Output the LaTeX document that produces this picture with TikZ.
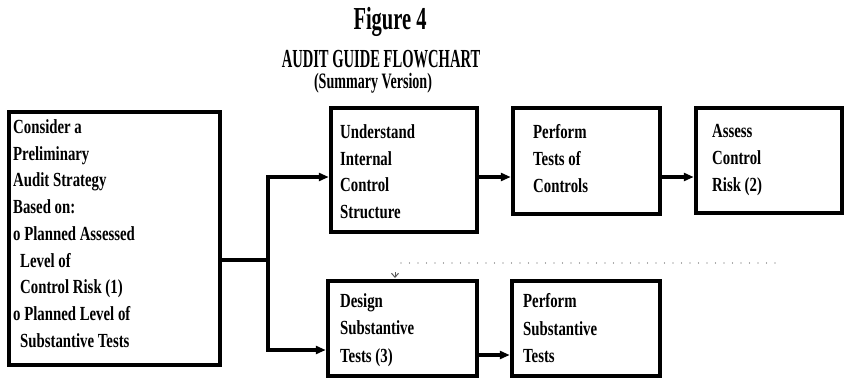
\documentclass[tikz,border=0pt]{standalone}
\usepackage{fontspec}
\setmainfont{Liberation Serif}
\newfontfamily\bodyfont[FakeStretch=0.74]{Liberation Serif}
\newfontfamily\headfont[FakeStretch=0.64]{Liberation Serif}
\newfontfamily\capsfont[FakeStretch=0.56]{Liberation Serif}
\usetikzlibrary{arrows.meta}

\begin{document}
\begin{tikzpicture}[x=1pt,y=-1pt,
  box/.style={draw, line width=4.5pt, rectangle, inner sep=0pt},
  boxtext/.style={anchor=north west, inner sep=0pt, align=left,
    font=\bodyfont\bfseries\fontsize{20pt}{26.7pt}\selectfont},
  wire/.style={line width=4pt},
  link/.style={line width=4pt, -{Triangle[length=10pt,width=8pt]}},
  feedback/.style={gray!70!black, line width=1.3pt, line cap=round,
    dash pattern=on 0pt off 8.5pt},
]
\useasboundingbox (0,0) rectangle (847,380);

% headings
\node[anchor=base, inner sep=0pt, font=\headfont\bfseries\fontsize{32pt}{34pt}\selectfont]
  (fig) at (390,30) {Figure 4};
\node[anchor=base, inner sep=0pt, font=\capsfont\bfseries\fontsize{26pt}{28pt}\selectfont]
  (title) at (381,67) {AUDIT GUIDE FLOWCHART};
\node[anchor=base, inner sep=0pt, font=\headfont\bfseries\fontsize{22pt}{24pt}\selectfont]
  (sub) at (373,88) {(Summary Version)};

% boxes
\node[box, minimum width=211pt, minimum height=253pt] (L) at (114.5,238.5) {};
\node[box, minimum width=146pt, minimum height=124pt] (U) at (404,170) {};
\node[box, minimum width=147pt, minimum height=106pt] (P) at (586.5,161) {};
\node[box, minimum width=146pt, minimum height=105pt] (A) at (769,160.5) {};
\node[box, minimum width=149pt, minimum height=95pt]  (D) at (402.5,328.5) {};
\node[box, minimum width=148pt, minimum height=95pt]  (S) at (586,328.5) {};

% box texts
\node[boxtext] (Lt) at (13,119.5) {Consider a\\Preliminary\\Audit Strategy\\Based on:\\
  o Planned Assessed\\\hspace*{7pt}Level of\\\hspace*{7pt}Control Risk (1)\\
  o Planned Level of\\\hspace*{7pt}Substantive Tests};
\node[boxtext] (Ut) at (340,124.5) {Understand\\Internal\\Control\\Structure};
\node[boxtext] (Pt) at (533,124.5) {Perform\\Tests of\\Controls};
\node[boxtext] (At) at (712,124.5) {Assess\\Control\\Risk (2)};
\node[boxtext, font=\bodyfont\bfseries\fontsize{20pt}{27.3pt}\selectfont]
  (Dt) at (340,293.5) {Design\\Substantive\\Tests (3)};
\node[boxtext, font=\bodyfont\bfseries\fontsize{20pt}{27.3pt}\selectfont]
  (St) at (523,293.5) {Perform\\Substantive\\Tests};

% connector levels
\coordinate (j) at (268,260);
\coordinate (toprow) at (0,177);
\coordinate (lowin) at (0,350);
\coordinate (lowrow) at (0,355);
\coordinate (fb) at (775,263);
\coordinate (fc) at (395,263);

% connectors
\draw[wire] (L.east |- j) -- (j);
\draw[link] (j) |- (U.west |- toprow);
\draw[link] (j) |- (D.west |- lowin);
\draw[link] (U.east |- toprow) -- (P.west |- toprow);
\draw[link] (P.east |- toprow) -- (A.west |- toprow);
\draw[link] (D.east |- lowrow) -- (S.west |- lowrow);

% dotted feedback to the substantive test design
\draw[feedback] (fb) -- (fc);
\draw[gray!70!black, line width=1pt, -{Straight Barb[length=4pt,width=7pt]}]
  (fc) ++(0,9) -- ++(0,6);
\end{tikzpicture}
\end{document}
